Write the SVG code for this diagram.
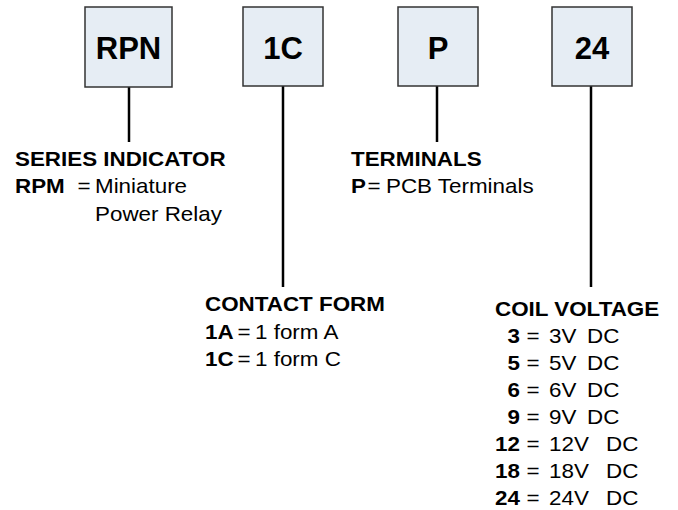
<svg xmlns="http://www.w3.org/2000/svg" width="678" height="510" viewBox="0 0 678 510">
<style>
.box{fill:#e6edf4;stroke:#333;stroke-width:1.5}
.lbl{font-family:"Liberation Sans",Arial,sans-serif;font-weight:bold;font-size:31px;fill:#000;text-anchor:middle}
.t{font-family:"Liberation Sans",Arial,sans-serif;font-size:20px;fill:#000}
.b{font-weight:bold}
.m{text-anchor:middle}
.e{text-anchor:end}
.ln{stroke:#000;stroke-width:2.5;fill:none}
</style>
<rect width="678" height="510" fill="#fff"/>
<g id="connectors">
<line class="ln" x1="129" y1="87" x2="129" y2="142"/>
<line class="ln" x1="283" y1="86" x2="283" y2="287"/>
<line class="ln" x1="437" y1="86" x2="437" y2="142"/>
<line class="ln" x1="591" y1="86" x2="591" y2="287"/>
</g>
<g id="box-rpn"><rect class="box" x="85" y="7" width="87" height="80"/><text class="lbl" x="128.5" y="59">RPN</text></g>
<g id="box-1c"><rect class="box" x="243" y="7" width="80" height="79"/><text class="lbl" x="283" y="59">1C</text></g>
<g id="box-p"><rect class="box" x="398" y="7" width="80" height="79"/><text class="lbl" x="438" y="59">P</text></g>
<g id="box-24"><rect class="box" x="552" y="7" width="80" height="79"/><text class="lbl" x="592" y="59">24</text></g>
<g id="series">
<text class="t b" transform="translate(15 166) scale(1.12 1)">SERIES INDICATOR</text>
<text class="t b" transform="translate(15 193) scale(1.12 1)">RPM</text>
<text class="t m" transform="translate(84 193) scale(1.12 1)">=</text>
<text class="t" transform="translate(95 193) scale(1.12 1)">Miniature</text>
<text class="t" transform="translate(95 221) scale(1.12 1)">Power Relay</text>
</g>
<g id="terminals">
<text class="t b" transform="translate(351 166) scale(1.12 1)">TERMINALS</text>
<text class="t b" transform="translate(351 193) scale(1.12 1)">P</text>
<text class="t m" transform="translate(374 193) scale(1.12 1)">=</text>
<text class="t" transform="translate(386 193) scale(1.12 1)">PCB Terminals</text>
</g>
<g id="contact">
<text class="t b" transform="translate(205 311) scale(1.12 1)">CONTACT FORM</text>
<text class="t b" transform="translate(205 339) scale(1.12 1)">1A</text>
<text class="t m" transform="translate(244 339) scale(1.12 1)">=</text>
<text class="t" transform="translate(255 339) scale(1.12 1)">1 form A</text>
<text class="t b" transform="translate(205 366) scale(1.12 1)">1C</text>
<text class="t m" transform="translate(244 366) scale(1.12 1)">=</text>
<text class="t" transform="translate(255 366) scale(1.12 1)">1 form C</text>
</g>
<g id="coil">
<text class="t b" transform="translate(495 316) scale(1.12 1)">COIL VOLTAGE</text>
<text class="t b e" transform="translate(520 343) scale(1.12 1)">3</text><text class="t m" transform="translate(533 343) scale(1.12 1)">=</text><text class="t" transform="translate(549 343) scale(1.12 1)">3V</text><text class="t" transform="translate(587 343) scale(1.12 1)">DC</text>
<text class="t b e" transform="translate(520 370) scale(1.12 1)">5</text><text class="t m" transform="translate(533 370) scale(1.12 1)">=</text><text class="t" transform="translate(549 370) scale(1.12 1)">5V</text><text class="t" transform="translate(587 370) scale(1.12 1)">DC</text>
<text class="t b e" transform="translate(520 397) scale(1.12 1)">6</text><text class="t m" transform="translate(533 397) scale(1.12 1)">=</text><text class="t" transform="translate(549 397) scale(1.12 1)">6V</text><text class="t" transform="translate(587 397) scale(1.12 1)">DC</text>
<text class="t b e" transform="translate(520 424) scale(1.12 1)">9</text><text class="t m" transform="translate(533 424) scale(1.12 1)">=</text><text class="t" transform="translate(549 424) scale(1.12 1)">9V</text><text class="t" transform="translate(587 424) scale(1.12 1)">DC</text>
<text class="t b e" transform="translate(520 451) scale(1.12 1)">12</text><text class="t m" transform="translate(533 451) scale(1.12 1)">=</text><text class="t" transform="translate(549 451) scale(1.12 1)">12V</text><text class="t" transform="translate(606 451) scale(1.12 1)">DC</text>
<text class="t b e" transform="translate(520 478) scale(1.12 1)">18</text><text class="t m" transform="translate(533 478) scale(1.12 1)">=</text><text class="t" transform="translate(549 478) scale(1.12 1)">18V</text><text class="t" transform="translate(606 478) scale(1.12 1)">DC</text>
<text class="t b e" transform="translate(520 505) scale(1.12 1)">24</text><text class="t m" transform="translate(533 505) scale(1.12 1)">=</text><text class="t" transform="translate(549 505) scale(1.12 1)">24V</text><text class="t" transform="translate(606 505) scale(1.12 1)">DC</text>
</g>
</svg>
